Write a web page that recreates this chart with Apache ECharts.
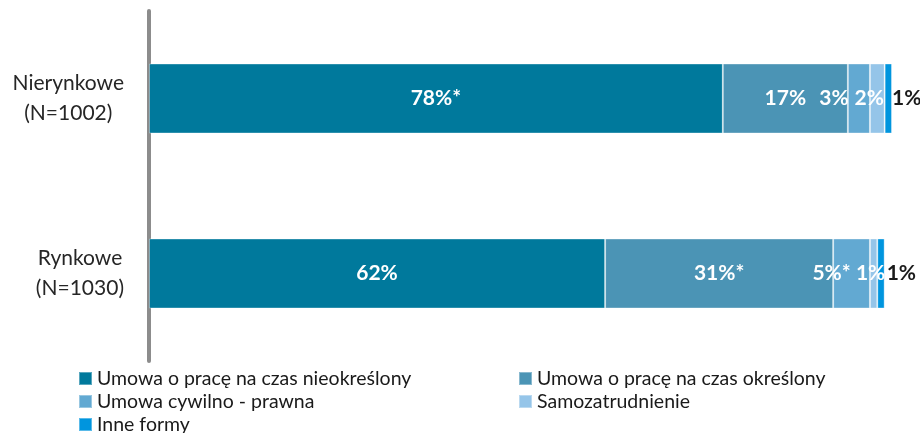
<!DOCTYPE html>
<html>
<head>
<meta charset="utf-8">
<script src="https://cdn.jsdelivr.net/npm/echarts@6/dist/echarts.min.js"></script>
<style>
  html, body { margin: 0; padding: 0; background: #ffffff; }
  #chart { width: 920px; height: 433px; }
</style>
</head>
<body>
<div id="chart"></div>
<script>
// Rodzaj umowy w sektorach nierynkowym i rynkowym (%)
const categories = ['Nierynkowe\n(N=1002)', 'Rynkowe\n(N=1030)'];
const seriesNames = [
  'Umowa o pracę na czas nieokreślony',
  'Umowa o pracę na czas określony',
  'Umowa cywilno - prawna',
  'Samozatrudnienie',
  'Inne formy'
];
const nieokreslony = [78, 62];
const okreslony = [17, 31];
const cywilnoPrawna = [3, 5];
const samozatrudnienie = [2, 1];
const inneFormy = [1, 1];
// statistically significant differences are marked with an asterisk
const nieokreslonyStar = ['*', ''];
const okreslonyStar = ['', '*'];
const cywilnoPrawnaStar = ['', '*'];
const samozatrudnienieStar = ['', ''];
const inneFormyStar = ['', ''];

const values = [nieokreslony, okreslony, cywilnoPrawna, samozatrudnienie, inneFormy];
const stars = [nieokreslonyStar, okreslonyStar, cywilnoPrawnaStar, samozatrudnienieStar, inneFormyStar];

const colors = ['#00799c', '#4b94b5', '#62a9d2', '#95c5e9', '#0095de'];
const FONT = 'Lato, "Noto Sans", sans-serif';

// horizontal nudges for the crowded small-segment labels
const labelShift = [
  [0, 0],
  [0, 0],
  [-25, -20],
  [-8, -3],
  [0, 0]
];
// gap between the end of the bar and the outside label of the last segment
const outsideGap = [0, 2];

const series = values.map((vals, si) => ({
  name: seriesNames[si],
  type: 'bar',
  stack: 'total',
  barWidth: 70,
  itemStyle: {
    color: colors[si],
    borderColor: 'rgba(255,255,255,0.35)',
    borderWidth: 1
  },
  data: vals.map((v, ci) => ({
    value: v,
    label: si === 4 ? {
      show: true,
      position: 'right',
      distance: outsideGap[ci],
      color: '#1a1a1a',
      fontFamily: FONT,
      fontWeight: 'bold',
      fontSize: 21,
      formatter: v + '%' + stars[si][ci]
    } : {
      show: true,
      position: 'inside',
      offset: [labelShift[si][ci], 0],
      color: '#ffffff',
      fontFamily: FONT,
      fontWeight: 'bold',
      fontSize: 21,
      formatter: v + '%' + stars[si][ci]
    }
  }))
}));

const legendBase = {
  top: 368,
  height: 80,
  orient: 'vertical',
  padding: 0,
  itemGap: 2,
  itemWidth: 13,
  itemHeight: 13,
  icon: 'rect',
  textStyle: { fontFamily: FONT, fontSize: 19.5, lineHeight: 21, color: '#1a1a1a' },
  selectedMode: false
};

const chart = echarts.init(document.getElementById('chart'), null, { renderer: 'canvas' });
chart.setOption({
  animation: false,
  backgroundColor: '#ffffff',
  grid: { left: 149, right: 28, top: 11, bottom: 72, containLabel: false },
  xAxis: {
    type: 'value',
    min: 0,
    max: 101,
    show: false
  },
  yAxis: {
    type: 'category',
    inverse: true,
    data: categories,
    axisLine: { show: true, lineStyle: { color: '#8c8c8c', width: 4 } },
    axisTick: { show: false },
    splitLine: { show: false },
    axisLabel: {
      margin: 25,
      align: 'right',
      formatter: (val) => val.split('\n').map(s => '{c|' + s + '}').join('\n'),
      rich: {
        c: {
          align: 'center',
          fontFamily: FONT,
          fontSize: 21,
          lineHeight: 30,
          color: '#262626'
        }
      }
    }
  },
  legend: [
    Object.assign({}, legendBase, {
      left: 78,
      data: [seriesNames[0], seriesNames[2], seriesNames[4]]
    }),
    Object.assign({}, legendBase, {
      left: 518,
      data: [seriesNames[1], seriesNames[3]]
    })
  ],
  series: series
});
</script>
</body>
</html>
